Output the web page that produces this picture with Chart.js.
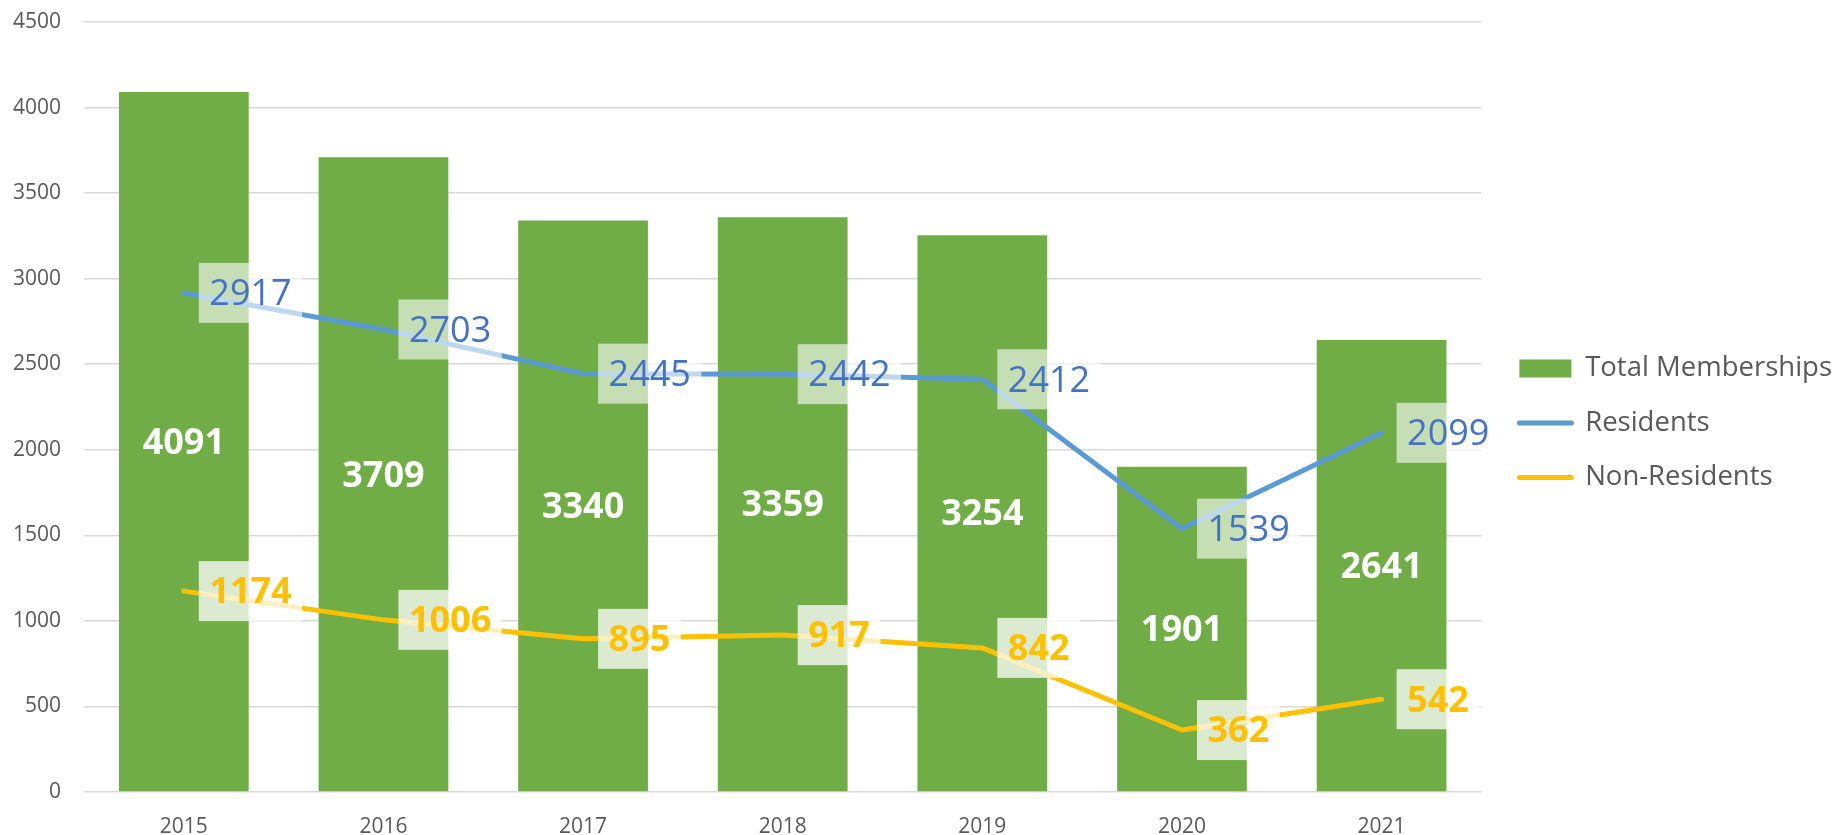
<!DOCTYPE html>
<html>
<head>
<meta charset="utf-8">
<script src="https://cdn.jsdelivr.net/npm/chart.js@4.4.1/dist/chart.umd.min.js"></script>
<style>
  html, body { margin: 0; padding: 0; background: #fff; }
  #wrap { width: 1842px; height: 835px; }
</style>
</head>
<body>
<div id="wrap"><canvas id="chart" width="1842" height="835"></canvas></div>
<script>
const years = ['2015', '2016', '2017', '2018', '2019', '2020', '2021'];
const totalMemberships = [4091, 3709, 3340, 3359, 3254, 1901, 2641];
const residents = [2917, 2703, 2445, 2442, 2412, 1539, 2099];
const nonResidents = [1174, 1006, 895, 917, 842, 362, 542];
const yTicks = [0, 500, 1000, 1500, 2000, 2500, 3000, 3500, 4000, 4500];

const FONT = "'Open Sans', 'Segoe UI', sans-serif";
const GREEN = '#70AD47';
const BLUE = '#5B9BD5';
const ORANGE = '#FFC000';
const GREY = '#595959';

// draws the Excel-style data labels on top of everything
const valueLabels = {
  id: 'valueLabels',
  afterDatasetsDraw(chart) {
    const ctx = chart.ctx;
    chart.data.datasets.forEach((ds, i) => {
      const lbl = ds.valueLabel;
      if (!lbl) return;
      const meta = chart.getDatasetMeta(i);
      ctx.save();
      ctx.font = `${lbl.weight} ${lbl.size}px ${FONT}`;
      ctx.textBaseline = 'middle';
      meta.data.forEach((el, j) => {
        const text = String(ds.data[j]);
        if (lbl.inside) {
          ctx.textAlign = 'center';
          ctx.fillStyle = lbl.color;
          ctx.fillText(text, el.x, (el.y + el.base) / 2 + 2);
          return;
        }
        const tw = ctx.measureText(text).width;
        const bx = el.x + 15, bw = tw + 21, bh = 60;
        ctx.fillStyle = lbl.box;
        ctx.fillRect(bx, el.y - bh / 2, bw, bh);
        ctx.textAlign = 'left';
        ctx.fillStyle = lbl.color;
        ctx.fillText(text, bx + 10.5, el.y + 2);
      });
      ctx.restore();
    });
  }
};

new Chart(document.getElementById('chart'), {
  type: 'bar',
  data: {
    labels: years,
    datasets: [
      {
        type: 'bar',
        label: 'Total Memberships',
        data: totalMemberships,
        backgroundColor: GREEN,
        borderWidth: 0,
        barPercentage: 0.65,
        categoryPercentage: 1,
        pointStyle: 'rect',
        order: 3,
        valueLabel: { inside: true, color: '#fff', weight: 'bold', size: 36 },
      },
      {
        type: 'line',
        label: 'Residents',
        data: residents,
        borderColor: BLUE,
        backgroundColor: BLUE,
        borderWidth: 5,
        borderCapStyle: 'round',
        borderJoinStyle: 'round',
        tension: 0,
        pointRadius: 0,
        pointHoverRadius: 0,
        pointStyle: 'line',
        pointBorderWidth: 5,
        pointBorderColor: BLUE,
        order: 1,
        valueLabel: { color: '#4472C4', weight: 'normal', size: 36, box: 'rgba(255,255,255,0.6)' },
      },
      {
        type: 'line',
        label: 'Non-Residents',
        data: nonResidents,
        borderColor: ORANGE,
        backgroundColor: ORANGE,
        borderWidth: 5,
        borderCapStyle: 'round',
        borderJoinStyle: 'round',
        tension: 0,
        pointRadius: 0,
        pointHoverRadius: 0,
        pointStyle: 'line',
        pointBorderWidth: 5,
        pointBorderColor: ORANGE,
        order: 2,
        valueLabel: { color: ORANGE, weight: 'bold', size: 36, box: 'rgba(255,255,255,0.75)' },
      },
    ],
  },
  options: {
    responsive: false,
    animation: false,
    layout: { padding: { top: 11, right: 0, bottom: 0, left: 0 } },
    scales: {
      x: {
        grid: { display: false },
        border: { display: false },
        ticks: { color: GREY, font: { family: FONT, size: 21 }, padding: 14 },
        afterFit: s => { s.height = 43; },
      },
      y: {
        min: 0,
        max: 4500,
        grid: { color: '#D9D9D9', lineWidth: 1.5, drawTicks: false },
        border: { display: false },
        afterBuildTicks: s => { s.ticks = yTicks.map(v => ({ value: v })); },
        ticks: { color: GREY, font: { family: FONT, size: 21 }, padding: 23, callback: v => String(v) },
        afterFit: s => { s.width = 84; s.paddingTop = 22; s.paddingBottom = 0; },
      },
      gap: {
        type: 'linear',
        axis: 'y',
        position: 'right',
        grid: { display: false },
        border: { display: false },
        ticks: { display: false },
        afterFit: s => { s.width = 11; s.paddingTop = 0; s.paddingBottom = 0; },
      },
    },
    plugins: {
      tooltip: { enabled: false },
      legend: {
        position: 'right',
        maxWidth: 500,
        labels: {
          usePointStyle: true,
          pointStyleWidth: 52,
          boxHeight: 18,
          padding: 27,
          color: GREY,
          font: { family: FONT, size: 27.5 },
          sort: (a, b) => a.datasetIndex - b.datasetIndex,
          generateLabels(chart) {
            const items = Chart.defaults.plugins.legend.labels.generateLabels(chart);
            items.forEach(it => { if (it.pointStyle === 'line') it.lineCap = 'round'; });
            return items;
          },
        },
      },
    },
  },
  plugins: [valueLabels],
});
</script>
</body>
</html>
